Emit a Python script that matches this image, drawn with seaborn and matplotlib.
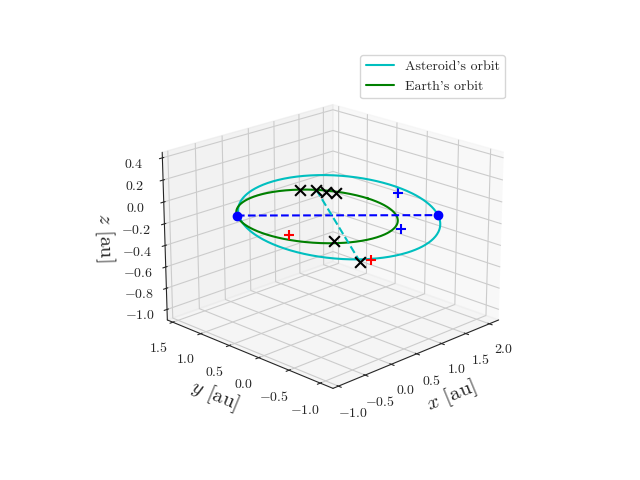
import numpy as np
import matplotlib
matplotlib.use("Agg")
import matplotlib.pyplot as plt
import seaborn as sns

sns.set_style("ticks")
plt.rcParams["font.family"] = "serif"
plt.rcParams["font.serif"] = ["cmr10"]
plt.rcParams["mathtext.fontset"] = "cm"
plt.rcParams["axes.formatter.use_mathtext"] = True

# orbital elements (au, deg)
ast_a = 1.25
ast_e = 0.22
ast_inc = -4.0
ast_peri_dir = 140.0
earth_r = 1.0
theta = np.linspace(0, 2 * np.pi, 400)

# marker positions (x, y, z)
blue_dots_x = [-0.766, 1.17]
blue_dots_y = [0.643, -0.98]
blue_dots_z = [0.0, 0.0]
blue_plus_x = [1.35, 0.42]
blue_plus_y = [-0.2, -0.99]
blue_plus_z = [0.03, 0.0]
red_plus_x = [-0.81, -0.4]
red_plus_y = [-0.26, -1.2]
red_plus_z = [0.0, -0.1]
black_x_x = [0.6, 0.76, 0.79, 0.84, -0.55, -0.55]
black_x_y = [0.8, 0.66, 0.52, 0.4, -0.75, -1.15]
black_x_z = [0.0, 0.0, 0.0, 0.0, 0.0, -0.1]
cyan_line_x = [0.76, -0.55]
cyan_line_y = [0.66, -1.15]
cyan_line_z = [0.0, -0.1]

fig = plt.figure(figsize=(6.4, 4.8), dpi=100)
ax = fig.add_subplot(111, projection="3d")

r = ast_a * (1 - ast_e ** 2) / (1 + ast_e * np.cos(theta))
p = r * np.cos(theta)
q = r * np.sin(theta) * np.cos(np.radians(ast_inc))
zq = r * np.sin(theta) * np.sin(np.radians(ast_inc))
w = np.radians(ast_peri_dir)
ax.plot(p * np.cos(w) - q * np.sin(w), p * np.sin(w) + q * np.cos(w), zq,
        color="c", label="Asteroid's orbit")
ax.plot(earth_r * np.cos(theta), earth_r * np.sin(theta), 0 * theta, color="g", label="Earth's orbit")

ax.plot(blue_dots_x, blue_dots_y, blue_dots_z, "b--o")
ax.plot(cyan_line_x, cyan_line_y, cyan_line_z, "c--")
ax.scatter(blue_plus_x, blue_plus_y, blue_plus_z, color="b", marker="+", s=60, depthshade=False)
ax.scatter(red_plus_x, red_plus_y, red_plus_z, color="r", marker="+", s=60, depthshade=False)
ax.scatter(black_x_x, black_x_y, black_x_z, color="k", marker="x", s=60, depthshade=False)

ax.set_xlim(-1.1, 2.2)
ax.set_ylim(-1.2, 1.6)
ax.set_zlim(-1.1, 0.45)
ax.set_xticks([-1.0, -0.5, 0.0, 0.5, 1.0, 1.5, 2.0])
ax.set_yticks([-1.0, -0.5, 0.0, 0.5, 1.0, 1.5])
ax.set_zticks([-1.0, -0.8, -0.6, -0.4, -0.2, 0.0, 0.2, 0.4])
ax.set_xlabel(r"$x$ [au]", fontsize=15)
ax.set_ylabel(r"$y$ [au]", fontsize=15)
ax.set_zlabel(r"$z$ [au]", fontsize=15)
ax.view_init(elev=20, azim=-135)
fig.legend(loc="upper right", bbox_to_anchor=(0.8, 0.9))
fig.savefig("out.png", dpi=100)
